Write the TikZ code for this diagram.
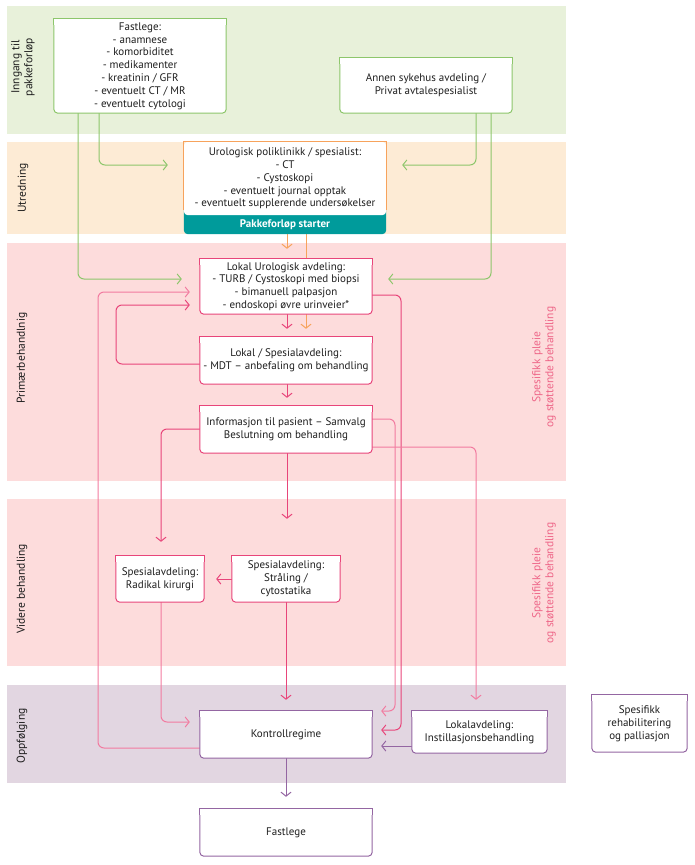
\documentclass[tikz,border=0pt]{standalone}
\usepackage{fontspec}
\setmainfont{PT Sans}
\usetikzlibrary{arrows.meta}
\definecolor{gband}{HTML}{E8F1DA}
\definecolor{oband}{HTML}{FDEBD5}
\definecolor{pband}{HTML}{FDDCDC}
\definecolor{uband}{HTML}{E2D6E1}
\definecolor{grn}{HTML}{8DC66B}
\definecolor{org}{HTML}{F7A35C}
\definecolor{tealc}{HTML}{009B9B}
\definecolor{pkd}{HTML}{E8457A}
\definecolor{pkl}{HTML}{F27BA0}
\definecolor{pur}{HTML}{9466A2}
\definecolor{pktxt}{HTML}{EE6688}
\definecolor{txt}{HTML}{1E1E1E}
\pgfdeclarelayer{bands}\pgfdeclarelayer{lines}\pgfdeclarelayer{boxes}
\pgfsetlayers{bands,lines,boxes,main}
\begin{document}
\begin{tikzpicture}[x=1pt,y=-1pt,
  box/.style={align=center, inner sep=0pt, text=txt, font=\fontsize{11}{12.8}\selectfont},
  lbl/.style={rotate=90, align=center, inner sep=0pt, font=\fontsize{11.5}{13}\selectfont, text=txt},
  conn/.style={line width=1pt, rounded corners=6pt, -{Straight Barb[length=4pt,width=10pt,line width=1pt]}}]
\useasboundingbox (0,0) rectangle (695,865);
% bands
\begin{pgfonlayer}{bands}
\fill[gband] (7,6) rectangle (566,134);
\fill[oband] (7,142) rectangle (566,234);
\fill[pband] (7,243) rectangle (566,481);
\fill[pband] (7,499) rectangle (566,666);
\fill[uband] (7,685) rectangle (566,783);
\end{pgfonlayer}
% band labels
\node[lbl] (l1) at (23,67) {Inngang til\\pakkeforløp};
\node[lbl] (l2) at (23,188) {Utredning};
\node[lbl] (l3) at (22,358) {Primærbehandlnig};
\node[lbl] (l4) at (22,589) {Videre behandling};
\node[lbl] (l5) at (22,736) {Oppfølging};
\node[lbl, text=pktxt] (r1) at (544,367) {Spesifikk pleie\\og støttende behandling};
\node[lbl, text=pktxt] (r2) at (544,583) {Spesifikk pleie\\og støttende behandling};
% nodes
\node[box, minimum width=172pt, minimum height=94pt] (fl) at (140,66) {Fastlege:\\- anamnese\\- komorbiditet\\- medikamenter\\- kreatinin / GFR\\- eventuelt CT / MR\\- eventuelt cytologi};
\node[box, minimum width=172pt, minimum height=55pt] (an) at (426,85.5) {Annen sykehus avdeling /\\Privat avtalespesialist};
\node[box, minimum width=202pt, minimum height=73pt] (ur) at (285,178.5) {Urologisk poliklinikk / spesialist:\\- CT\\- Cystoskopi\\- eventuelt journal opptak\\- eventuelt supplerende undersøkelser};
\node[box, minimum width=202pt, minimum height=19pt, text=white, font=\fontsize{11}{12}\selectfont\bfseries] (pk) at (285,224.5) {Pakkeforløp starter};
\node[box, minimum width=172pt, minimum height=55pt] (lu) at (286,286.5) {Lokal Urologisk avdeling:\\- TURB / Cystoskopi med biopsi\\- bimanuell palpasjon\\- endoskopi øvre urinveier*};
\node[box, minimum width=172pt, minimum height=47pt] (ls) at (286,360.5) {Lokal / Spesialavdeling:\\- MDT – anbefaling om behandling};
\node[box, minimum width=172pt, minimum height=47pt] (inf) at (286,429.5) {Informasjon til pasient – Samvalg\\Beslutning om behandling};
\node[box, minimum width=88pt, minimum height=46pt] (rk) at (160,579) {Spesialavdeling:\\Radikal kirurgi};
\node[box, minimum width=108pt, minimum height=46pt] (st) at (286,579) {Spesialavdeling:\\Stråling /\\cytostatika};
\node[box, minimum width=172pt, minimum height=47pt] (kr) at (286,734.5) {Kontrollregime};
\node[box, minimum width=135pt, minimum height=42pt] (la) at (479.5,732) {Lokalavdeling:\\Instillasjonsbehandling};
\node[box, minimum width=95pt, minimum height=57pt] (sr) at (639.5,723.5) {Spesifikk\\rehabilitering\\og palliasjon};
\node[box, minimum width=172pt, minimum height=47pt] (fb) at (286,832.5) {Fastlege};
% box outlines
\foreach \n/\c in {fl/grn, an/grn, lu/pkd, ls/pkd, inf/pkd, rk/pkd, st/pkd, kr/pur, la/pur, sr/pur, fb/pur}{
  \begin{pgfonlayer}{boxes}
  \filldraw[fill=white, draw=\c, line width=1pt, rounded corners=4pt] (\n.north west) rectangle (\n.south east);
  \filldraw[fill=white, draw=\c, line width=1pt] ([yshift=-6pt]\n.north west) -- (\n.north west) -- (\n.north east) -- ([yshift=-6pt]\n.north east);
  \end{pgfonlayer}
}
\begin{pgfonlayer}{boxes}
\fill[tealc, rounded corners=4pt] ([yshift=10pt]pk.north west) rectangle (pk.south east);
\fill[white, rounded corners=4pt] (ur.north west) rectangle (ur.south east);
\draw[org, line width=1pt] ([yshift=5pt]ur.south west) -- (ur.north west) -- (ur.north east) -- ([yshift=5pt]ur.south east);
\end{pgfonlayer}
% connectors
\begin{pgfonlayer}{lines}
\draw[conn, grn, shorten >=16pt] (fl.south -| 99,0) |- (ur.west |- 0,165);
\draw[conn, grn, shorten >=18pt] (fl.south -| 78,0) |- (lu.west |- 0,279);
\draw[conn, grn, shorten >=16pt] (an.south -| 476,0) |- (ur.east |- 0,165);
\draw[conn, grn, shorten >=16pt] (an.south -| 491,0) |- (lu.east |- 0,279);
\draw[conn, org, shorten >=10pt] (pk.south -| 287,0) -- (lu.north -| 287,0);
\draw[conn, org, shorten >=8pt] (pk.south -| 306,0) -- (ls.north -| 306,0);
\draw[conn, pkd, shorten >=8pt] (lu.south -| 287,0) -- (ls.north -| 287,0);
\draw[conn, pkd, shorten >=8pt] (ls.south -| 287,0) -- (inf.north -| 287,0);
\draw[conn, pkd, shorten >=10pt] (ls.west |- 0,364) -| (116,305) -- (lu.west |- 0,305);
\draw[conn, pkl, shorten >=10pt] (kr.west |- 0,748) -| (98,292) -- (lu.west |- 0,292);
\draw[conn, pkd, shorten >=14pt] (inf.west |- 0,429) -| (rk.north -| 161,0);
\draw[conn, pkd, shorten >=37pt] (inf.south -| 287,0) -- (st.north -| 287,0);
\draw[conn, pkd, shorten >=12pt] (st.west |- 0,579) -- (rk.east |- 0,579);
\draw[conn, pkl, shorten >=10pt] (rk.south -| 161,0) |- (kr.west |- 0,722);
\draw[conn, pkd, shorten >=11pt] (st.south -| 286,0) -- (kr.north -| 286,0);
\draw[conn, pkd, shorten >=9pt] (lu.east |- 0,295) -| (401,730) -- (kr.east |- 0,730);
\draw[conn, pkl, shorten >=9pt] (inf.east |- 0,419) -| (395,711) -- (kr.east |- 0,711);
\draw[conn, pkl, shorten >=11pt] (inf.east |- 0,447) -| (la.north -| 476,0);
\draw[conn, pur, shorten >=9pt] (la.west |- 0,746) -- (kr.east |- 0,746);
\draw[conn, pur, shorten >=12pt] (kr.south -| 286,0) -- (fb.north -| 286,0);
\end{pgfonlayer}
\end{tikzpicture}
\end{document}
